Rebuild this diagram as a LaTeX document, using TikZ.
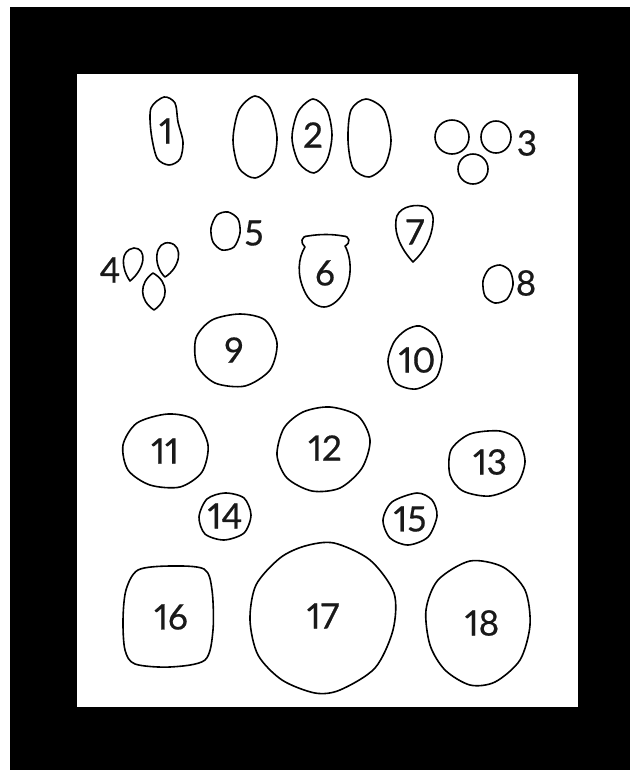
\documentclass[tikz,border=0pt]{standalone}
\usepackage{fontspec}
\setmainfont{Lato}[Numbers={Proportional,Lining},FakeBold=0.5]
\begin{document}
\begin{tikzpicture}[x=1pt,y=-1pt,
  blob/.style={draw=black,line width=1.6pt,line join=round},
  lab/.style={font=\fontsize{35}{35}\selectfont,inner sep=0pt,text=black!90}]
\useasboundingbox (0,0) rectangle (630,772);
\fill[white] (0,0) rectangle (630,772);
\fill[black] (10,7) rectangle (630,770);
\fill[white] (77,74) rectangle (578,707);
% 1
\draw[blob] plot[smooth cycle] coordinates {(164,97) (175,103) (178,122) (183,142) (180,159) (169,165) (157,158) (151,132) (151,108)};
\node[lab] (l1) at (166,131) {1};
% 2
\draw[blob] plot[smooth cycle] coordinates {(255,96) (270,108) (277,137) (272,165) (255,178) (239,168) (233,140) (239,110)};
\draw[blob] plot[smooth cycle] coordinates {(313,99) (327,110) (332,135) (327,160) (314,173) (299,163) (292,138) (298,112)};
\draw[blob] plot[smooth cycle] coordinates {(366,99) (384,110) (391,140) (385,165) (369,177) (353,168) (348,140) (351,110)};
\node[lab] (l2) at (313,135) {2};
% 3
\draw[blob] (452,137) ellipse[x radius=17,y radius=17];
\draw[blob] (496,137) ellipse[x radius=15,y radius=16];
\draw[blob] (473,169) ellipse[x radius=15,y radius=15];
\node[lab] (l3) at (527,143) {3};
% 4
\draw[blob] (130,281) .. controls (121,268) and (120,250) .. (134,248) .. controls (147,248) and (146,268) .. (130,281) -- cycle;
\draw[blob] (165,277) .. controls (152,265) and (155,240) .. (170,243) .. controls (184,246) and (180,268) .. (165,277) -- cycle;
\draw[blob] (153,273) .. controls (169,282) and (169,300) .. (154,310) .. controls (139,300) and (139,283) .. (153,273) -- cycle;
\node[lab] (l4) at (110,270) {4};
% 5
\draw[blob] plot[smooth cycle] coordinates {(228,212) (238,219) (240,233) (234,247) (222,250) (213,242) (211,228) (217,215)};
\node[lab] (l5) at (254,233) {5};
% 6
\draw[blob] (308,236) .. controls (320,234) and (332,234) .. (343,236)
  .. controls (350,236) and (351,243) .. (345,246)
  .. controls (352,258) and (352,280) .. (344,292)
  .. controls (338,302) and (330,307) .. (324,307)
  .. controls (316,307) and (308,300) .. (304,290)
  .. controls (297,275) and (298,258) .. (305,247)
  .. controls (300,243) and (301,236) .. (308,236) -- cycle;
\node[lab] (l6) at (325,273) {6};
% 7
\draw[blob] (413,262) .. controls (402,250) and (394,235) .. (396,220)
  .. controls (397,208) and (412,204) .. (422,206)
  .. controls (430,207) and (434,214) .. (433,222)
  .. controls (432,238) and (424,252) .. (413,262) -- cycle;
\node[lab] (l7) at (415,232) {7};
% 8
\draw[blob] plot[smooth cycle] coordinates {(500,265) (510,271) (513,285) (507,299) (495,303) (485,296) (483,281) (489,269)};
\node[lab] (l8) at (526,283) {8};
% 9
\draw[blob] plot[smooth cycle] coordinates {(240,314) (265,320) (277,343) (270,370) (245,386) (215,383) (197,365) (196,338) (212,320)};
\node[lab] (l9) at (234,350) {9};
% 10
\draw[blob] plot[smooth cycle] coordinates {(420,326) (435,336) (442,356) (436,378) (416,389) (396,383) (388,362) (394,342) (406,330)};
\node[lab] (l10) at (417,360) {10};
% 11
\draw[blob] plot[smooth cycle] coordinates {(168,414) (195,420) (208,445) (202,472) (180,487) (150,485) (128,470) (123,445) (137,423)};
\node[lab] (l11) at (165,451) {11};
% 12
\draw[blob] plot[smooth cycle] coordinates {(330,407) (358,416) (370,440) (362,468) (340,488) (312,491) (287,478) (277,455) (284,428) (303,412)};
\node[lab] (l12) at (325,448) {12};
% 13
\draw[blob] plot[smooth cycle] coordinates {(500,431) (518,440) (525,462) (516,485) (490,496) (463,491) (450,475) (451,450) (470,434)};
\node[lab] (l13) at (490,462) {13};
% 14
\draw[blob] plot[smooth cycle] coordinates {(225,493) (244,498) (251,515) (244,533) (224,540) (205,534) (199,517) (207,499)};
\node[lab] (l14) at (225,516) {14};
% 15
\draw[blob] plot[smooth cycle] coordinates {(417,493) (432,500) (437,516) (428,537) (408,545) (390,538) (383,520) (392,502)};
\node[lab] (l15) at (410,519) {15};
% 16
\draw[blob] plot[smooth cycle] coordinates {(126,590) (138,570) (170,566) (204,569) (212,590) (213,630) (205,660) (170,667) (135,664) (125,650) (123,620)};
\node[lab] (l16) at (171,617) {16};
% 17
\draw[blob] plot[smooth cycle] coordinates {(334,543) (370,560) (394,593) (393,630) (375,668) (340,690) (315,693) (282,680) (258,655) (250,620) (256,585) (280,558) (305,546)};
\node[lab] (l17) at (323,616) {17};
% 18
\draw[blob] plot[smooth cycle] coordinates {(470,561) (503,567) (525,590) (530,625) (520,660) (495,682) (470,685) (445,670) (430,645) (426,610) (438,580)};
\node[lab] (l18) at (482,623) {18};
\end{tikzpicture}
\end{document}
